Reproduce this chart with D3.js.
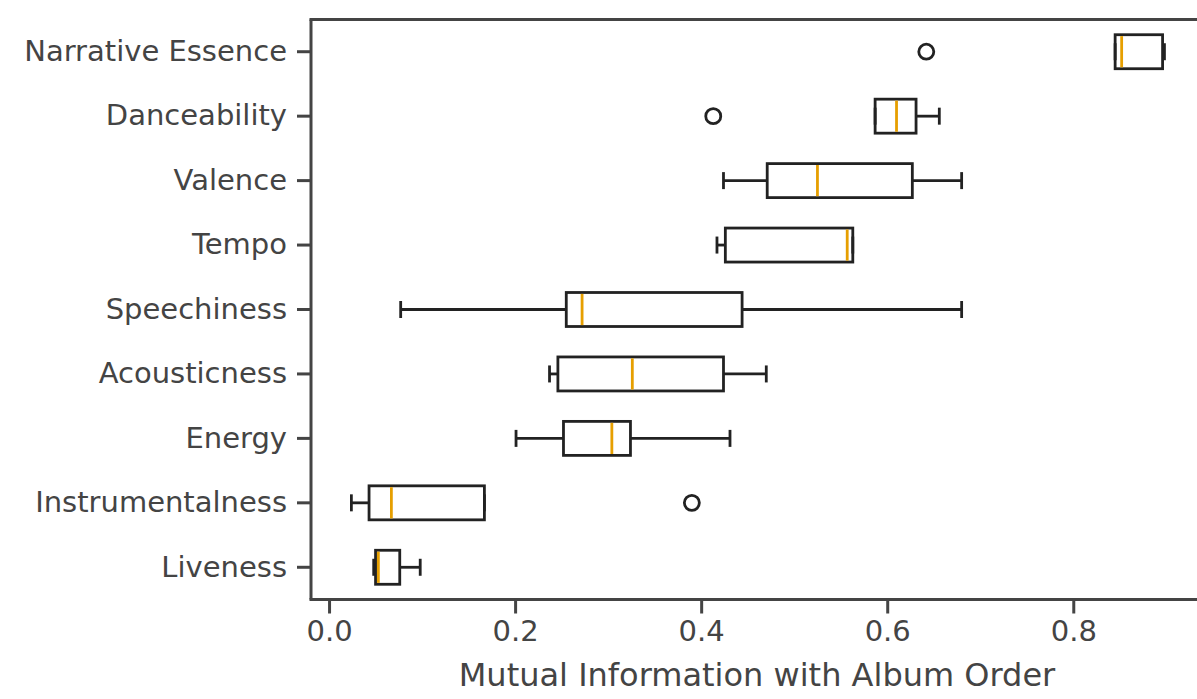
<!DOCTYPE html>
<html>
<head>
<meta charset="utf-8">
<script src="https://cdn.jsdelivr.net/npm/d3@7"></script>
<style>
  body { margin: 0; background: #fff; }
  svg { display: block; font-family: "DejaVu Sans", sans-serif; }
</style>
</head>
<body>
<div id="chart"></div>
<script>
// features, top to bottom
const features = ["Narrative Essence", "Danceability", "Valence", "Tempo", "Speechiness",
  "Acousticness", "Energy", "Instrumentalness", "Liveness"];

// box stats
const whiskerLow  = [0.845, 0.587, 0.424, 0.417, 0.077, 0.237, 0.201, 0.024, 0.048];
const q1          = [0.845, 0.587, 0.471, 0.426, 0.255, 0.246, 0.252, 0.043, 0.050];
const median      = [0.852, 0.610, 0.525, 0.557, 0.272, 0.326, 0.304, 0.067, 0.053];
const q3          = [0.896, 0.631, 0.627, 0.563, 0.444, 0.424, 0.324, 0.167, 0.076];
const whiskerHigh = [0.898, 0.656, 0.680, 0.563, 0.680, 0.470, 0.431, 0.167, 0.098];
const outliers    = [[0.642], [0.413], [], [], [], [], [], [0.390], []];

const xTicks = [0.0, 0.2, 0.4, 0.6, 0.8];
const xLabel = "Mutual Information with Album Order";

const width = 1197, height = 699;
const margin = { top: 19.5, bottom: 99.5, left: 311 };

const svg = d3.select("#chart").append("svg")
  .attr("width", width).attr("height", height);

const x = d3.scaleLinear()
  .domain([-0.0194, 0.933])
  .range([margin.left, width]);

const y = d3.scaleBand()
  .domain(features)
  .range([margin.top, height - margin.bottom]);

const axisColor = "#444";
const ink = "#222";
const boxH = 34;
const lw = 2.8;

const data = features.map((f, i) => ({
  name: f, lo: whiskerLow[i], q1: q1[i], med: median[i], q3: q3[i], hi: whiskerHigh[i], fliers: outliers[i]
}));

const rows = svg.append("g").selectAll("g.row").data(data).join("g")
  .attr("class", "row")
  .attr("transform", d => `translate(0,${y(d.name) + y.bandwidth() / 2})`);

// whiskers
rows.append("line").attr("x1", d => x(d.lo)).attr("x2", d => x(d.q1))
  .attr("stroke", ink).attr("stroke-width", lw);
rows.append("line").attr("x1", d => x(d.q3)).attr("x2", d => x(d.hi))
  .attr("stroke", ink).attr("stroke-width", lw);
// caps
rows.selectAll("line.cap").data(d => [d.lo, d.hi]).join("line")
  .attr("class", "cap")
  .attr("x1", v => x(v)).attr("x2", v => x(v))
  .attr("y1", -boxH / 4).attr("y2", boxH / 4)
  .attr("stroke", ink).attr("stroke-width", lw);
// box
rows.append("rect")
  .attr("x", d => x(d.q1)).attr("width", d => x(d.q3) - x(d.q1))
  .attr("y", -boxH / 2).attr("height", boxH)
  .attr("fill", "none").attr("stroke", ink).attr("stroke-width", lw);
// median
rows.append("line").attr("x1", d => x(d.med)).attr("x2", d => x(d.med))
  .attr("y1", -boxH / 2 + 1.4).attr("y2", boxH / 2 - 1.4)
  .attr("stroke", "#e69f00").attr("stroke-width", lw);
// fliers
rows.selectAll("circle").data(d => d.fliers).join("circle")
  .attr("cx", v => x(v)).attr("cy", 0).attr("r", 7.5)
  .attr("fill", "none").attr("stroke", ink).attr("stroke-width", lw);

// axes
const xAxis = svg.append("g")
  .attr("transform", `translate(0,${height - margin.bottom})`)
  .call(d3.axisBottom(x).tickValues(xTicks).tickFormat(d3.format(".1f")).tickSize(14).tickSizeOuter(0).tickPadding(7));
const yAxis = svg.append("g")
  .attr("transform", `translate(${margin.left},0)`)
  .call(d3.axisLeft(y).tickSize(14).tickSizeOuter(0).tickPadding(10));

[xAxis, yAxis].forEach(a => {
  a.select(".domain").attr("stroke", axisColor).attr("stroke-width", 3);
  a.selectAll(".tick line").attr("stroke", axisColor).attr("stroke-width", 3);
  a.selectAll(".tick text").attr("fill", axisColor).attr("font-size", 29)
    .attr("font-family", "DejaVu Sans, sans-serif");
});
xAxis.select(".domain").attr("d", `M${margin.left - 1.5},0H${width}`);
yAxis.select(".domain").attr("d", `M0,${margin.top}V${height - margin.bottom}`);

// top spine
svg.append("line").attr("x1", margin.left - 1.5).attr("x2", width)
  .attr("y1", margin.top).attr("y2", margin.top)
  .attr("stroke", axisColor).attr("stroke-width", 3);

svg.append("text")
  .attr("x", 757).attr("y", 686)
  .attr("text-anchor", "middle").attr("fill", axisColor).attr("font-size", 32)
  .text(xLabel);
</script>
</body>
</html>
